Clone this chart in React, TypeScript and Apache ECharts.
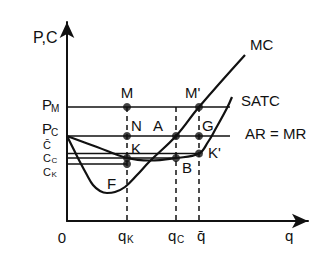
import React, { useEffect, useRef } from "react";
import * as echarts from "echarts";

// Quantities on the q axis
const qK = 6.0;
const qC = 10.9;
const qBar = 13.2;
// Price / cost levels
const pM = 11.4;
const pC = 8.5;
const cBar = 6.75;
const cC = 6.3;
const cK = 5.7;
const lineEnd = 16.3;

// MC curve
const mcQ = [0, 0.7, 1.3, 2.0, 2.6, 3.3, 4.0, 4.8, 5.8, 7.0, 8.3, 10.9, 13.2, 17.8];
const mcP = [8.5, 7.1, 5.9, 4.6, 3.6, 3.0, 2.8, 2.9, 3.4, 4.6, 6.0, 8.5, 11.4, 16.6];
// SATC curve
const satcQ = [0, 3.0, 6.0, 8.3, 10.9, 13.2, 14.1, 14.8, 16.0, 16.5];
const satcP = [8.5, 7.4, 6.3, 6.05, 6.3, 6.75, 7.9, 9.1, 11.3, 12.4];

// Marked points
const dotQ = [qK, qK, qK, qK, qC, qC, qBar, qBar, qBar];
const dotP = [pM, pC, cC, cK, pC, cC, pM, pC, cBar];

const FONT = "'Liberation Sans', Arial, Helvetica, sans-serif";
const INK = "#111";

function t(text: string, x: number, y: number, size = 15, align = "left") {
  return {
    type: "text",
    x,
    y,
    z: 100,
    style: {
      text,
      fill: INK,
      fontSize: size,
      fontFamily: FONT,
      textAlign: align,
      textVerticalAlign: "middle",
    },
  };
}

function seg(points: number[][], dashed = false, width = 1.5) {
  return {
    type: "line",
    data: points,
    showSymbol: false,
    symbol: "none",
    silent: true,
    lineStyle: { color: INK, width, type: dashed ? [5, 4] : "solid" },
  };
}

export default function App() {
  const ref = useRef<HTMLDivElement>(null);
  useEffect(() => {
    if (!ref.current) return;
    const chart = echarts.init(ref.current, undefined, { renderer: "svg" });
    const mc = mcQ.map((q, i) => [q, mcP[i]]);
    const satc = satcQ.map((q, i) => [q, satcP[i]]);
    const dots = dotQ.map((q, i) => [q, dotP[i]]);
    chart.setOption({
      animation: false,
      backgroundColor: "#fff",
      grid: { left: 67, right: 23, top: 22, bottom: 37 },
      xAxis: {
        type: "value",
        min: 0,
        max: 24.1,
        splitLine: { show: false },
        axisTick: { show: false },
        axisLabel: { show: false },
        axisLine: {
          show: true,
          onZero: false,
          symbol: ["none", "arrow"],
          symbolSize: [11, 16],
          lineStyle: { color: INK, width: 2 },
        },
      },
      yAxis: {
        type: "value",
        min: 0,
        max: 19.9,
        splitLine: { show: false },
        axisTick: { show: false },
        axisLabel: { show: false },
        axisLine: {
          show: true,
          onZero: false,
          symbol: ["none", "arrow"],
          symbolSize: [11, 16],
          lineStyle: { color: INK, width: 2 },
        },
      },
      series: [
        seg([[0, pM], [lineEnd, pM]]),
        seg([[0, pC], [lineEnd, pC]]),
        seg([[0, cBar], [qBar, cBar]]),
        seg([[0, cC], [qC, cC]]),
        seg([[0, cK], [qK, cK]]),
        seg([[qK, pM], [qK, 0]], true),
        seg([[qC, pM], [qC, 0]], true),
        seg([[qBar, pM], [qBar, 0]], true),
        {
          type: "line",
          data: mc,
          smooth: 0.4,
          symbol: "none",
          lineStyle: { color: INK, width: 2.2 },
        },
        {
          type: "line",
          data: satc,
          smooth: 0.4,
          symbol: "none",
          lineStyle: { color: INK, width: 2.2 },
        },
        {
          type: "scatter",
          data: dots,
          symbolSize: 8,
          itemStyle: { color: INK },
          z: 10,
        },
      ],
      graphic: [
        t("P,C", 33, 37, 16),
        t("P", 42, 104),
        t("M", 51, 108, 10),
        t("P", 42, 128),
        t("C", 51, 132, 10),
        t("C\u0304", 43, 144.5, 11),
        t("C", 43, 158, 11),
        t("C", 51.5, 160.5, 8),
        t("C", 43, 171.5, 11),
        t("K", 51.5, 174, 8),
        t("0", 62, 237, 15, "center"),
        t("q", 118, 235),
        t("K", 127, 239, 10),
        t("q", 168, 235),
        t("C", 177, 239, 10),
        t("q\u0304", 197, 235),
        t("q", 285, 235),
        t("M", 127, 92, 15, "center"),
        t("M'", 185, 92),
        t("N", 131, 125),
        t("A", 153, 125),
        t("G", 202, 125),
        t("K", 131, 148),
        t("K'", 208, 152),
        t("B", 182, 167),
        t("F", 107, 183),
        t("MC", 250, 44),
        t("SATC", 241, 100),
        t("AR = MR", 245, 133),
      ],
    });
    return () => chart.dispose();
  }, []);
  return (
    <div
      ref={ref}
      style={{ position: "absolute", left: 0, top: 0, width: 331, height: 258, background: "#fff" }}
    />
  );
}
